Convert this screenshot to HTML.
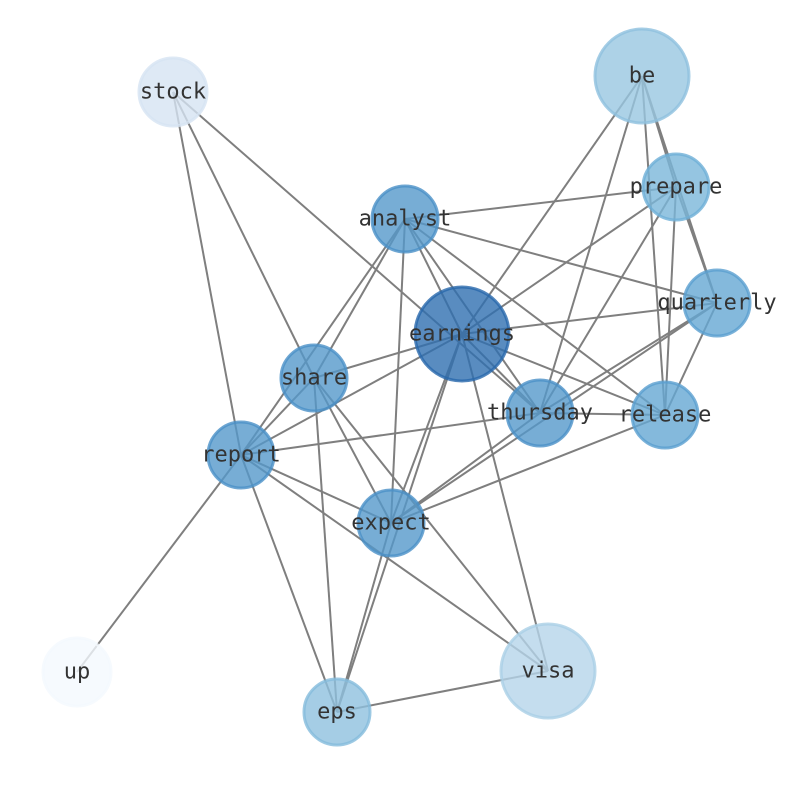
<!DOCTYPE html>
<html><head><style>body{margin:0;background:#fff}</style></head><body>
<svg width="794" height="790" xmlns="http://www.w3.org/2000/svg">
<g stroke="#7f7f7f" stroke-width="2">
<line x1="173" y1="92" x2="314" y2="378"/><line x1="173" y1="92" x2="241" y2="455"/><line x1="173" y1="92" x2="540" y2="413"/>
<line x1="642" y1="76" x2="462" y2="334"/><line x1="642" y1="76" x2="540" y2="413"/><line x1="642" y1="76" x2="665" y2="415"/><line x1="642" y1="76" x2="717" y2="303"/><line x1="642" y1="76" x2="676" y2="187"/>
<line x1="676" y1="187" x2="405" y2="219"/><line x1="676" y1="187" x2="462" y2="334"/><line x1="676" y1="187" x2="540" y2="413"/><line x1="676" y1="187" x2="665" y2="415"/><line x1="676" y1="187" x2="717" y2="303"/>
<line x1="405" y1="219" x2="717" y2="303"/><line x1="405" y1="219" x2="462" y2="334"/><line x1="405" y1="219" x2="540" y2="413"/><line x1="405" y1="219" x2="665" y2="415"/><line x1="405" y1="219" x2="314" y2="378"/><line x1="405" y1="219" x2="241" y2="455"/><line x1="405" y1="219" x2="391" y2="523"/>
<line x1="717" y1="303" x2="462" y2="334"/><line x1="717" y1="303" x2="391" y2="523"/><line x1="717" y1="303" x2="665" y2="415"/><line x1="717" y1="303" x2="540" y2="413"/>
<line x1="462" y1="334" x2="314" y2="378"/><line x1="462" y1="334" x2="241" y2="455"/><line x1="462" y1="334" x2="391" y2="523"/><line x1="462" y1="334" x2="337" y2="712"/><line x1="462" y1="334" x2="540" y2="413"/><line x1="462" y1="334" x2="665" y2="415"/><line x1="462" y1="334" x2="548" y2="671"/>
<line x1="540" y1="413" x2="665" y2="415"/><line x1="540" y1="413" x2="241" y2="455"/><line x1="540" y1="413" x2="391" y2="523"/>
<line x1="665" y1="415" x2="391" y2="523"/>
<line x1="314" y1="378" x2="241" y2="455"/><line x1="314" y1="378" x2="391" y2="523"/><line x1="314" y1="378" x2="337" y2="712"/><line x1="314" y1="378" x2="548" y2="671"/>
<line x1="241" y1="455" x2="391" y2="523"/><line x1="241" y1="455" x2="548" y2="671"/><line x1="241" y1="455" x2="337" y2="712"/><line x1="241" y1="455" x2="77" y2="672"/>
<line x1="391" y1="523" x2="337" y2="712"/><line x1="337" y1="712" x2="548" y2="671"/>
</g>
<g stroke-width="3" stroke-opacity="0.8" fill-opacity="0.8">
<circle cx="173" cy="92" r="34" fill="#d6e3f2" stroke="#d6e3f2"/>
<circle cx="642" cy="76" r="47" fill="#98c7e1" stroke="#8ec1de"/>
<circle cx="676" cy="187" r="33" fill="#7ab6da" stroke="#6eafd7"/>
<circle cx="405" cy="219" r="33" fill="#5598cb" stroke="#4a90c7"/>
<circle cx="717" cy="303" r="33" fill="#65a7d3" stroke="#5a9fcf"/>
<circle cx="462" cy="334" r="47" fill="#2f6fb0" stroke="#2868ab"/>
<circle cx="314" cy="378" r="33" fill="#5598cb" stroke="#4a90c7"/>
<circle cx="540" cy="413" r="33" fill="#5598cb" stroke="#4a90c7"/>
<circle cx="665" cy="415" r="33" fill="#65a7d3" stroke="#5a9fcf"/>
<circle cx="241" cy="455" r="33" fill="#5598cb" stroke="#4a90c7"/>
<circle cx="391" cy="523" r="33" fill="#5598cb" stroke="#4a90c7"/>
<circle cx="77" cy="672" r="34" fill="#f4f9fe" stroke="#f4f9fe"/>
<circle cx="548" cy="671" r="47" fill="#b5d4ea" stroke="#aacfe6"/>
<circle cx="337" cy="712" r="33" fill="#8ec1de" stroke="#84bbdc"/>
</g>
<g font-family="'DejaVu Sans Mono','Liberation Mono',monospace" font-size="22" fill="#333" text-anchor="middle" dominant-baseline="central">
<text x="173" y="92">stock</text><text x="642" y="76">be</text><text x="676" y="187">prepare</text><text x="405" y="219">analyst</text>
<text x="717" y="303">quarterly</text><text x="462" y="334">earnings</text><text x="314" y="378">share</text><text x="540" y="413">thursday</text>
<text x="665" y="415">release</text><text x="241" y="455">report</text><text x="391" y="523">expect</text><text x="77" y="672">up</text>
<text x="548" y="671">visa</text><text x="337" y="712">eps</text>
</g>
</svg>
</body></html>
